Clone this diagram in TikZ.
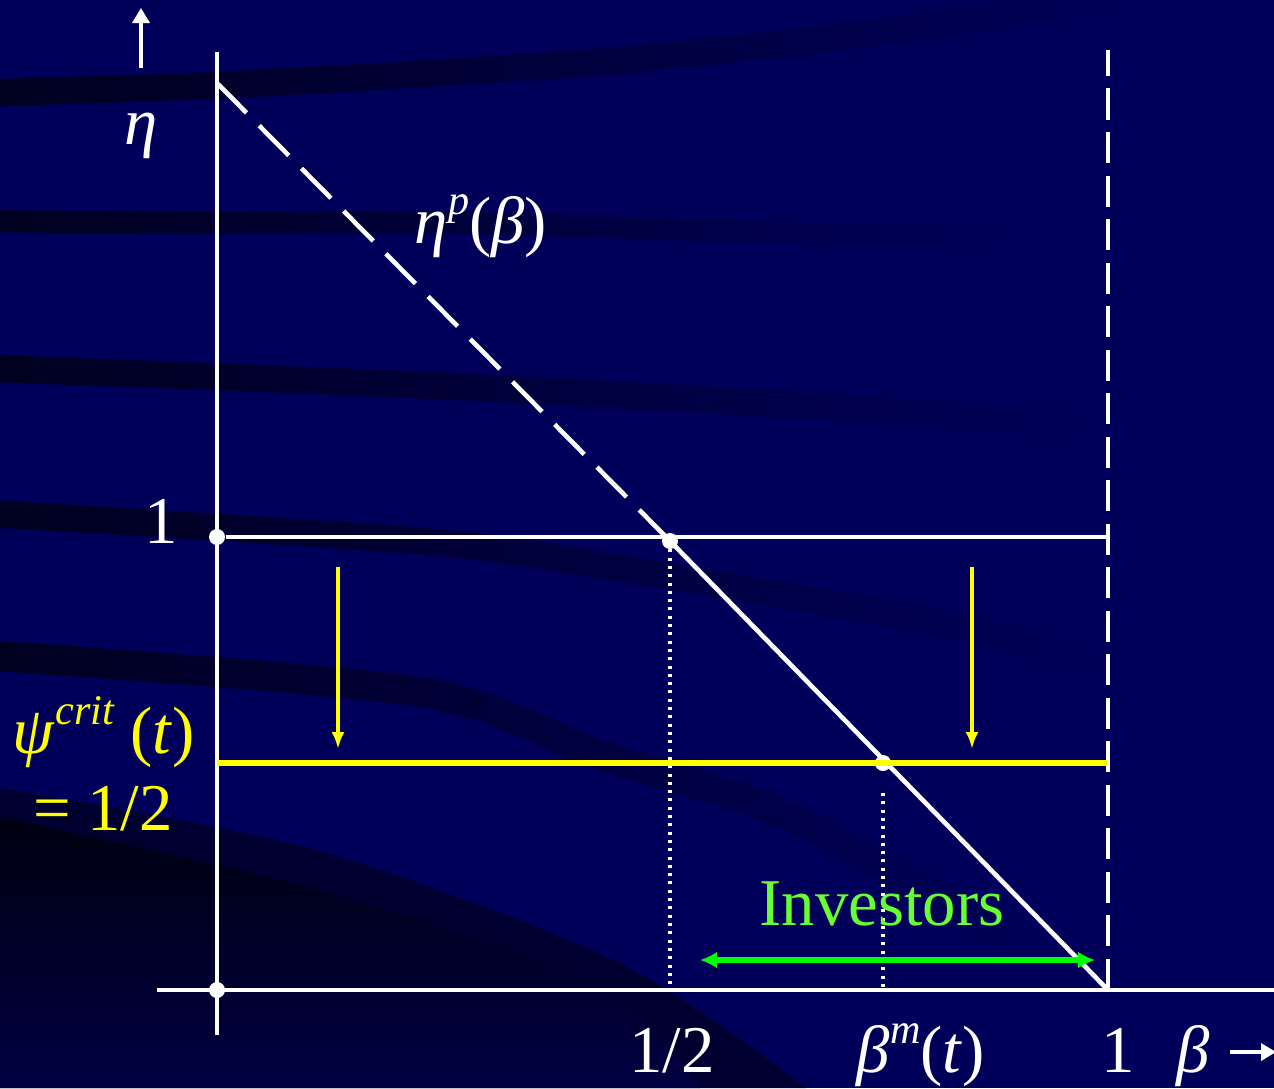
\documentclass[tikz,border=0pt]{standalone}
\usepackage{fontspec}
\setmainfont{Liberation Serif}
\usetikzlibrary{arrows.meta, positioning, fadings}

\definecolor{slidenavy}{RGB}{0,0,90}
\definecolor{slideband}{RGB}{0,0,30}
\definecolor{slidedark}{RGB}{0,0,16}
\definecolor{crityellow}{RGB}{255,255,0}
\definecolor{invgreen}{RGB}{0,255,0}
\definecolor{invtext}{RGB}{102,255,51}

\newcommand{\gk}[1]{\textit{#1}}
\newcommand{\upidx}[1]{%
    % #1 : superscript text
    \raisebox{0.42em}{\fontsize{12}{12}\selectfont\itshape #1}%
}

\tikzset{
    axisline/.style={draw=white, line width=1.15pt},
    graphline/.style={draw=white, line width=1.3pt},
    priceline/.style={draw=white, line width=1.3pt, dash pattern=on 0.42cm off 0.18cm},
    boundline/.style={draw=white, line width=1.15pt, dash pattern=on 0.31cm off 0.125cm},
    guideline/.style={draw=white, line width=0.9pt, dash pattern=on 0.03cm off 0.053cm},
    critline/.style={draw=crityellow, line width=1.7pt},
    shiftarrow/.style={draw=crityellow, line width=1.2pt, -{Latex[length=0.17cm, width=0.13cm]}},
    rangearrow/.style={draw=invgreen, line width=1.7pt,
        {Latex[length=0.17cm, width=0.17cm]}-{Latex[length=0.17cm, width=0.17cm]}},
    axisarrow/.style={draw=white, line width=1pt, -{Triangle[length=0.15cm, width=0.17cm]}},
    pointdot/.style={circle, fill=white, inner sep=0pt, minimum size=0.16cm},
    band/.style={draw=slideband, line width=0.27cm},
}

\begin{document}
\begin{tikzpicture}[
        x=0.01cm, y=-0.01cm,
        font=\fontsize{19}{22}\selectfont,
        text=white,
    ]

    \useasboundingbox (0,0) rectangle (1274,1088);
    \fill[slidenavy] (0,0) rectangle (1274,1088);

    % background swooshes
    \draw[band, path fading=east] plot[smooth] coordinates
        {(-20,93) (200,86) (420,74) (600,62) (800,42) (953,22) (1110,0)};
    \draw[band, line width=0.22cm, path fading=east] plot[smooth] coordinates
        {(-20,221) (200,223) (420,222) (700,230) (1000,240)};
    \draw[band, path fading=east] plot[smooth] coordinates
        {(-20,368) (420,385) (800,405) (1080,425)};
    \draw[band, path fading=east] plot[smooth] coordinates
        {(-20,513) (420,541) (600,565) (940,623) (1100,665)};
    \draw[band, line width=0.3cm, path fading=east] plot[smooth] coordinates
        {(-20,655) (420,692) (600,755) (770,808) (900,875) (1060,965)};
    \fill[slideband!70!slidenavy] (0,788) plot[smooth] coordinates
        {(0,788) (316,850) (620,963) (806,1088)} -- (0,1088) -- cycle;
    \shade[top color=slidedark, bottom color=slideband!40!slidenavy]
        (0,817) plot[smooth] coordinates
        {(0,817) (316,890) (593,983) (700,1088)} -- (0,1088) -- cycle;

    \def\xo{217}
    \def\yo{990}
    \def\xb{1108}
    \def\yone{537}
    \def\ycrit{763}

    % axes and bounds
    \coordinate (etatop) at (\xo,52);
    \coordinate (etabot) at (\xo,1035);
    \coordinate (betaleft) at (157,\yo);
    \coordinate (betaright) at (1274,\yo);
    \coordinate (pricetop) at (\xo,83);
    \coordinate (boundtop) at (\xb,50);
    \coordinate (boundbot) at (\xb,\yo);
    \coordinate (oneright) at (\xb,\yone);
    \coordinate (critleft) at (\xo,\ycrit);
    \coordinate (critright) at (\xb,\ycrit);

    \draw[axisline] (etatop) -- (etabot);
    \draw[axisline] (betaleft) -- (betaright);
    \draw[boundline] (boundbot) -- (boundtop);

    \node[pointdot] (oneleft) at (\xo,\yone) {};
    \node[pointdot] (origin) at (\xo,\yo) {};
    \node[pointdot] (half) at (670,541) {};
    \node[pointdot] (betam) at (883,\ycrit) {};
    \coordinate (betamtick) at (883,793);

    \draw[axisline] (oneleft) -- (oneright);
    \draw[priceline] (pricetop) -- (half.center);
    \draw[graphline] (half.center) -- (boundbot);
    \draw[guideline] (half.center) -- (half.center |- origin);
    \draw[guideline] (betamtick) -- (betamtick |- origin);
    \draw[critline] (critleft) -- (critright);

    % shift of the critical level
    \coordinate (shiftla) at (338,567);
    \coordinate (shiftlb) at (338,749);
    \coordinate (shiftra) at (972,567);
    \coordinate (shiftrb) at (972,749);
    \draw[shiftarrow] (shiftla) -- (shiftlb);
    \draw[shiftarrow] (shiftra) -- (shiftrb);

    % investors
    \coordinate (invleft) at (700,960);
    \coordinate (invright) at (1095,960);
    \draw[rangearrow] (invleft) -- (invright);
    \node[text=invtext, anchor=base] (investors) at (882,925) {Investors};

    % labels
    \coordinate (etaarrowtail) at (141,68);
    \coordinate (etaarrowtip) at (141,8);
    \draw[axisarrow] (etaarrowtail) -- (etaarrowtip);
    \node (etalabel) at (141,136) {\gk{η}};
    \node[anchor=base] (pricelabel) at (481,243) {\gk{η}\upidx{p}(\gk{β})};
    \node[anchor=base] (onelabel) at (161,543) {1};
    \node[text=crityellow, anchor=base] (critlabel) at (104,753)
        {\gk{ψ}\upidx{crit} (\gk{t})};
    \node[text=crityellow, anchor=base] (critvalue) at (103,830) {= 1/2};
    \node[anchor=base] (halflabel) at (672,1072) {1/2};
    \node[anchor=base] (betamlabel) at (921,1072) {\gk{β}\upidx{m}(\gk{t})};
    \node[anchor=base] (boundlabel) at (1118,1072) {1};
    \node[anchor=base west, inner sep=0pt] (betalabel) at (1176,1072) {\gk{β}};
    \coordinate (betaarrowtail) at (1230,1052);
    \coordinate (betaarrowtip) at (1276,1052);
    \draw[axisarrow] (betaarrowtail) -- (betaarrowtip);

\end{tikzpicture}
\end{document}
